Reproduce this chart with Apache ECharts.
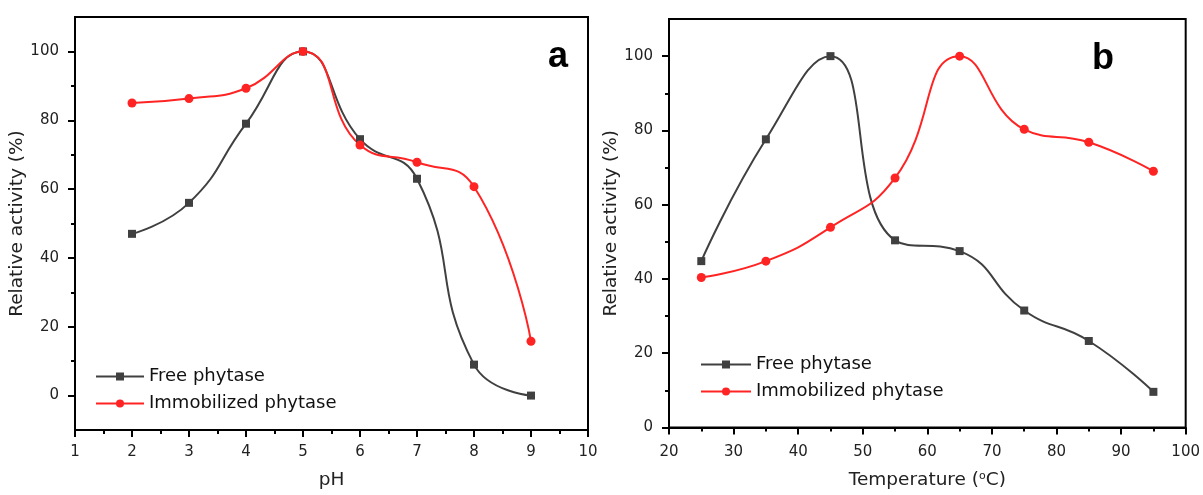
<!DOCTYPE html>
<html>
<head>
<meta charset="utf-8">
<script src="https://cdn.jsdelivr.net/npm/echarts@6/dist/echarts.min.js"></script>
<style>
html,body{margin:0;padding:0;background:#fff;}
#c{width:1203px;height:495px;}
</style>
</head>
<body>
<div id="c"></div>
<script>
// ---- data ----
const phValues = [2, 3, 4, 5, 6, 7, 8, 9];
const phFree = [47, 56, 79, 100, 74.5, 63, 9, 0];
const phImmob = [85, 86.3, 89.3, 100, 72.8, 67.8, 60.7, 15.8];

const tempValues = [25, 35, 45, 55, 65, 75, 85, 95];
const tempFree = [44.8, 77.6, 100, 50.4, 47.5, 31.5, 23.3, 9.6];
const tempImmob = [40.4, 44.8, 53.9, 67.2, 100, 80.3, 76.8, 69.0];

const yMajorTicks = [0, 20, 40, 60, 80, 100];
const yMinorTicksA = [10, 30, 50, 70, 90];
const yMinorTicksB = [10, 30, 50, 70, 90];

const seriesNames = ['Free phytase', 'Immobilized phytase'];
const panelLabels = ['a', 'b'];

// ---- style ----
const FONT = '"DejaVu Sans", "Liberation Sans", Arial, sans-serif';
const TXT = '#222';
const FREE_C = '#404040';
const IMM_C = '#ff2424';

function pairs(xs, ys){ return xs.map((x,i)=>[x, ys[i]]); }

const chart = echarts.init(document.getElementById('c'), null, {renderer:'canvas'});

function xAxisDef(gridIndex, min, max, interval, name, nameGap, margin){
  return {
    type:'value', gridIndex, min, max, interval,
    name, nameLocation:'middle', nameGap,
    nameTextStyle:{fontFamily:FONT, fontSize:18.5, color:TXT,
      rich:{sup:{fontFamily:FONT, fontSize:11, color:TXT, verticalAlign:'top', padding:[0,0,9,0]}}},
    axisLine:{show:true, onZero:false, lineStyle:{color:'#000', width:2}},
    axisTick:{show:true, inside:false, length:7, lineStyle:{color:'#000', width:2}},
    minorTick:{show:true, splitNumber:2, length:4, lineStyle:{color:'#000', width:2}},
    axisLabel:{fontFamily:FONT, fontSize:15, color:TXT, margin},
    splitLine:{show:false}, minorSplitLine:{show:false}
  };
}
function yAxisMajor(gridIndex, min, max, name, nameGap){
  return {
    type:'value', gridIndex, min, max,
    name, nameLocation:'middle', nameGap,
    nameTextStyle:{fontFamily:FONT, fontSize:18.5, color:TXT},
    axisLine:{show:true, onZero:false, lineStyle:{color:'#000', width:2}},
    axisTick:{show:true, inside:false, length:7, customValues:yMajorTicks, lineStyle:{color:'#000', width:2}},
    axisLabel:{fontFamily:FONT, fontSize:15, color:TXT, margin:16, customValues:yMajorTicks},
    splitLine:{show:false}
  };
}
function yAxisMinor(gridIndex, min, max, vals){
  return {
    type:'value', gridIndex, min, max, position:'left',
    axisLine:{show:false, onZero:false},
    axisTick:{show:true, inside:false, length:4, customValues:vals, lineStyle:{color:'#000', width:2}},
    axisLabel:{show:false},
    splitLine:{show:false}
  };
}
function lineSeries(name, data, xi, yi, color, symbol, size){
  return {
    type:'line', name, data, xAxisIndex:xi, yAxisIndex:yi,
    smooth:0.5, symbol, symbolSize:size, showSymbol:true,
    lineStyle:{color, width:2}, itemStyle:{color},
    emphasis:{disabled:true}, animation:false, z:3
  };
}

const option = {
  backgroundColor:'#fff',
  animation:false,
  grid:[
    {left:75, top:17, width:513, height:414, show:true, borderColor:'#000', borderWidth:2, containLabel:false},
    {left:669, top:19, width:517, height:416, show:true, borderColor:'#000', borderWidth:2, containLabel:false}
  ],
  xAxis:[
    xAxisDef(0, 1, 10, 1, 'pH', 41, 15),
    xAxisDef(1, 20, 100, 10, 'Temperature ({sup|o}C)', 43, 17)
  ],
  yAxis:[
    yAxisMajor(0, -10, 110, 'Relative activity (%)', 46),
    yAxisMinor(0, -10, 110, yMinorTicksA),
    yAxisMajor(1, 0, 110, 'Relative activity (%)', 42),
    yAxisMinor(1, 0, 110, yMinorTicksB)
  ],
  legend:[
    {
      left:95, top:366, padding:0, orient:'vertical', itemWidth:48, itemHeight:10, itemGap:6,
      data:seriesNames, selectedMode:false,
      textStyle:{fontFamily:FONT, fontSize:18, lineHeight:21, color:'#111'}
    },
    {
      left:700, top:354, padding:0, orient:'vertical', itemWidth:50, itemHeight:10, itemGap:6,
      data:seriesNames, selectedMode:false,
      textStyle:{fontFamily:FONT, fontSize:18, lineHeight:21, color:'#111'}
    }
  ],
  graphic:[
    {type:'text', left:548, top:39, style:{text:panelLabels[0], font:'bold 36px "Liberation Sans", Arial, sans-serif', fill:'#000'}},
    {type:'text', left:1092, top:41, style:{text:panelLabels[1], font:'bold 36px "Liberation Sans", Arial, sans-serif', fill:'#000'}}
  ],
  series:[
    lineSeries(seriesNames[0], pairs(phValues, phFree), 0, 0, FREE_C, 'rect', 8),
    lineSeries(seriesNames[1], pairs(phValues, phImmob), 0, 0, IMM_C, 'circle', 9),
    lineSeries(seriesNames[0], pairs(tempValues, tempFree), 1, 2, FREE_C, 'rect', 8),
    lineSeries(seriesNames[1], pairs(tempValues, tempImmob), 1, 2, IMM_C, 'circle', 9)
  ]
};
chart.setOption(option);
</script>
</body>
</html>
